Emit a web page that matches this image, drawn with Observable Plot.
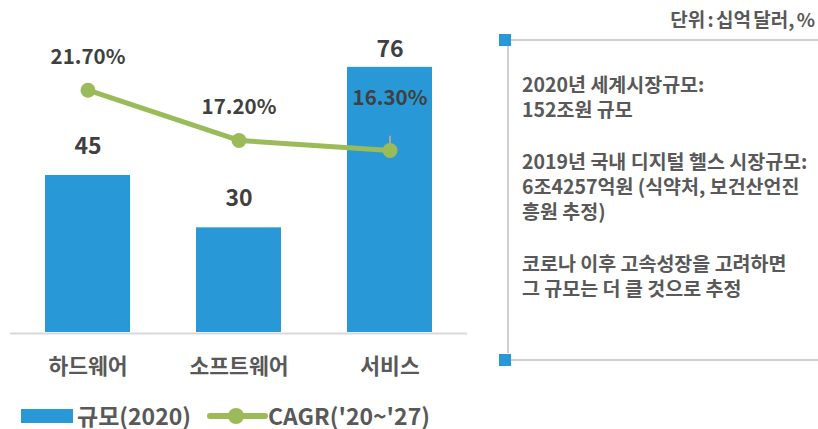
<!DOCTYPE html>
<html><head><meta charset="utf-8">
<script src="https://cdn.jsdelivr.net/npm/d3@7"></script>
<script src="https://cdn.jsdelivr.net/npm/@observablehq/plot@0.6"></script>
<style>
body{margin:0;background:#fff;font-family:"Noto Sans CJK KR","Noto Sans",sans-serif;}
#wrap{position:relative;width:818px;height:429px;overflow:hidden;}
#chart{position:absolute;left:0;top:0;}
.t{position:absolute;font-weight:700;color:#595959;white-space:nowrap;}
.ln{position:absolute;background:#cfcfcf;}
.sq{position:absolute;width:12px;height:12px;background:#2899d6;}
</style></head>
<body><div id="wrap"><div id="chart"></div></div>
<script>
const categories = ["하드웨어", "소프트웨어", "서비스"];
const sizes = [45, 30, 76];
const cagr = [21.7, 17.2, 16.3];
const cagrLabels = ["21.70%", "17.20%", "16.30%"];
const seriesNames = ["규모(2020)", "CAGR('20~'27)"];
const unitText = "단위 : 십억 달러, %";
const notes = [
  ["2020년 세계시장규모:", "152조원 규모"],
  ["2019년 국내 디지털 헬스 시장규모:", "6조4257억원 (식약처, 보건산언진", "흥원 추정)"],
  ["코로나 이후 고속성장을 고려하면", "그 규모는 더 클 것으로 추정"]
];

const data = categories.map((c, i) => ({cat: c, size: sizes[i], cagr: cagr[i], label: cagrLabels[i]}));
const K = 3.2; // secondary-axis factor (CAGR % onto bar scale)
const blue = "#2899d6", green = "#9bbb59";
const last = data.length - 1;

const plot = Plot.plot({
  width: 470, height: 390,
  marginLeft: 10, marginRight: 3, marginTop: 18, marginBottom: 58,
  style: {fontFamily: '"Noto Sans CJK KR", sans-serif', background: "transparent"},
  x: {domain: categories, paddingInner: 0.44, paddingOuter: 0.2237, axis: null},
  y: {domain: [0, 90], axis: null},
  marks: [
    Plot.barY(data, {x: "cat", y: "size", fill: blue}),
    Plot.ruleY([0], {stroke: "#d9d9d9", strokeWidth: 2, dy: 1}),
    Plot.axisX({tickSize: 0, tickPadding: 26, fontSize: 21.5, fontWeight: "bold", fill: "#595959", label: null}),
    Plot.text(data, {x: "cat", y: d => Math.min(d.size + 8.4, 81), text: d => String(d.size),
      fontSize: 23, fontWeight: "bold", fill: "#404040"}),
    Plot.line(data, {x: "cat", y: d => d.cagr * K, stroke: green, strokeWidth: 5}),
    Plot.ruleX(data, {filter: (d, i) => i === last, x: "cat", y1: d => d.cagr * K, y2: d => d.cagr * K + 4.1,
      stroke: "#a6a6a6", strokeWidth: 2}),
    Plot.dot(data, {x: "cat", y: d => d.cagr * K, r: 7.5, fill: green, stroke: "none"}),
    Plot.text(data, {filter: (d, i) => i !== last, x: "cat", y: d => d.cagr * K, dy: -33, text: "label",
      fontSize: 20.5, fontWeight: "bold", fill: "#404040"}),
    Plot.text(data, {filter: (d, i) => i === last, x: "cat", y: d => d.cagr * K, dy: -52, text: "label",
      fontSize: 20.5, fontWeight: "bold", fill: "#404040"})
  ]
});
document.getElementById("chart").appendChild(plot);

const wrap = document.getElementById("wrap");
function add(html){ wrap.insertAdjacentHTML("beforeend", html); }

// legend
add(`<div style="position:absolute;left:21px;top:409px;width:52px;height:14px;background:${blue}"></div>`);
add(`<div class="t" style="left:77px;top:403px;font-size:23px;line-height:24px;">${seriesNames[0]}</div>`);
add(`<svg style="position:absolute;left:207px;top:407px" width="62" height="18"><line x1="3" x2="58" y1="9" y2="9" stroke="${green}" stroke-width="6" stroke-linecap="round"/><circle cx="29" cy="9" r="8" fill="${green}"/></svg>`);
add(`<div class="t" style="left:268px;top:403px;font-size:23px;line-height:24px;">${seriesNames[1]}</div>`);

// unit
add(`<div class="t" style="right:3px;top:7px;font-size:19px;line-height:24px;word-spacing:-2px;">${unitText}</div>`);

// panel frame
add(`<div class="ln" style="left:511px;top:39px;width:307px;height:1.5px"></div>`);
add(`<div class="ln" style="left:507px;top:46px;width:1.7px;height:307px"></div>`);
add(`<div class="ln" style="left:511px;top:359px;width:307px;height:1.5px"></div>`);
add(`<div class="sq" style="left:499px;top:34px"></div>`);
add(`<div class="sq" style="left:499px;top:354px"></div>`);

// notes
const tops = [70.5, 147.5, 249.5];
notes.forEach((lines, p) => {
  add(`<div class="t" style="left:522px;top:${tops[p]}px;font-size:19.5px;line-height:25px;">${lines.join("<br>")}</div>`);
});
</script></body></html>
